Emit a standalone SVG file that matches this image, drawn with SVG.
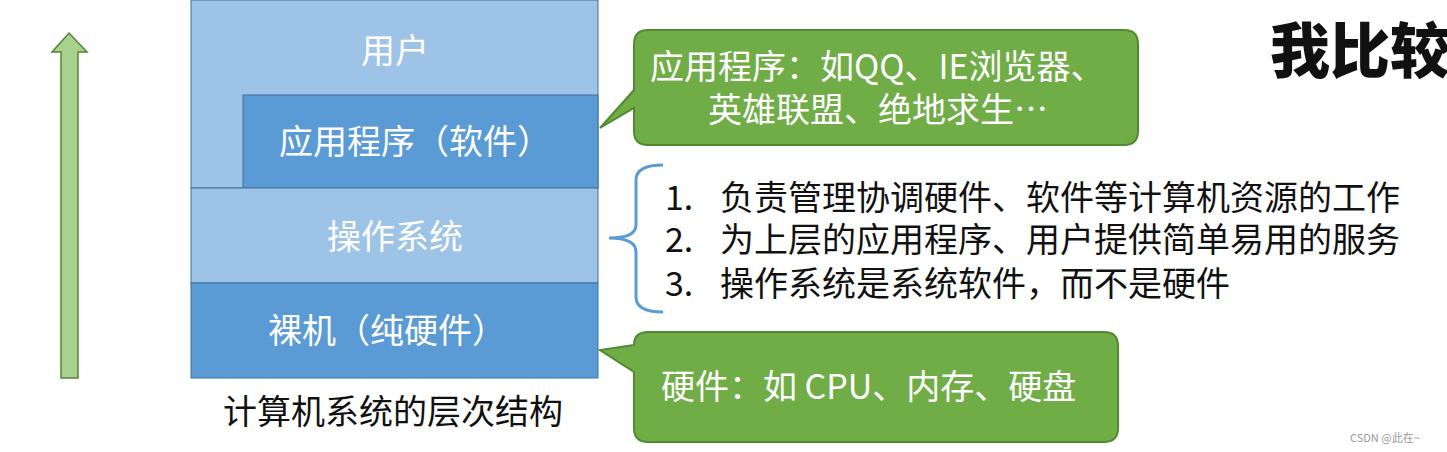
<svg xmlns="http://www.w3.org/2000/svg" width="1447" height="452" viewBox="0 0 1447 452">
<style>
.lt{fill:#9dc3e6}.dk{fill:#5b9bd5}
.bt{font-family:"Noto Sans CJK SC","Noto Sans",sans-serif;font-size:34px;fill:#fff;text-anchor:middle}
.ct{font-family:"Noto Sans CJK SC","Noto Sans",sans-serif;font-size:34px;fill:#fff}
.tx{font-family:"Noto Sans CJK SC","Noto Sans",sans-serif;font-size:34px;fill:#111}
.cl{fill:#70ad47;stroke:#4f8a2e;stroke-width:2}
</style>
<rect width="1447" height="452" fill="#fff"/>
<g id="arrow"><polygon points="61,378 78,378 78,52 87,52 69,33 52,52 61,52" fill="#a9d18e" stroke="#548235" stroke-width="1.5"/></g>
<g id="user"><rect class="lt" x="191" y="0" width="407" height="188" stroke="#41719c" stroke-width="1"/><text class="bt" x="395" y="63">用户</text></g>
<g id="app"><rect class="dk" x="243" y="95" width="355" height="93" stroke="#41719c" stroke-width="1"/><text class="bt" x="415" y="154">应用程序（软件）</text></g>
<g id="os"><rect class="lt" x="191" y="188" width="407" height="95" stroke="#41719c" stroke-width="1"/><text class="bt" x="395" y="249">操作系统</text></g>
<g id="hw"><rect class="dk" x="191" y="283" width="407" height="95" stroke="#41719c" stroke-width="1"/><text class="bt" x="387" y="343">裸机（纯硬件）</text></g>
<text class="tx" x="393" y="424" text-anchor="middle" font-size="35">计算机系统的层次结构</text>
<g id="callout1"><path class="cl" d="M648,30 H1124 Q1138,30 1138,44 V131 Q1138,145 1124,145 H648 Q634,145 634,131 V108 L600,128 L634,90 V44 Q634,30 648,30 Z"/>
<text class="ct" x="650" y="79">应用程序：如QQ、IE浏览器、</text><text class="ct" x="708" y="122">英雄联盟、绝地求生…</text></g>
<g id="brace"><path d="M663,165 Q636,165 636,180 V225 Q636,238 609,238 Q636,238 636,252 V297 Q636,312 663,312" fill="none" stroke="#5b9bd5" stroke-width="3"/></g>
<g id="list"><text class="tx" x="665" y="210">1.</text><text class="tx" x="720" y="210">负责管理协调硬件、软件等计算机资源的工作</text>
<text class="tx" x="665" y="252">2.</text><text class="tx" x="720" y="252">为上层的应用程序、用户提供简单易用的服务</text>
<text class="tx" x="665" y="296">3.</text><text class="tx" x="720" y="296">操作系统是系统软件，而不是硬件</text></g>
<g id="callout2"><path class="cl" d="M648,332 H1104 Q1118,332 1118,346 V428 Q1118,442 1104,442 H648 Q634,442 634,428 V372 L600,350 L634,345 Q634,332 648,332 Z"/>
<text class="ct" x="661" y="399">硬件：如 CPU、内存、硬盘</text></g>
<text x="1270" y="73" font-family="Noto Sans CJK SC,sans-serif" font-size="60" font-weight="900" fill="#111">我比较</text>
<text x="1350" y="442" font-family="Noto Sans CJK SC,sans-serif" font-size="11" fill="#999">CSDN @此在~</text>
</svg>
